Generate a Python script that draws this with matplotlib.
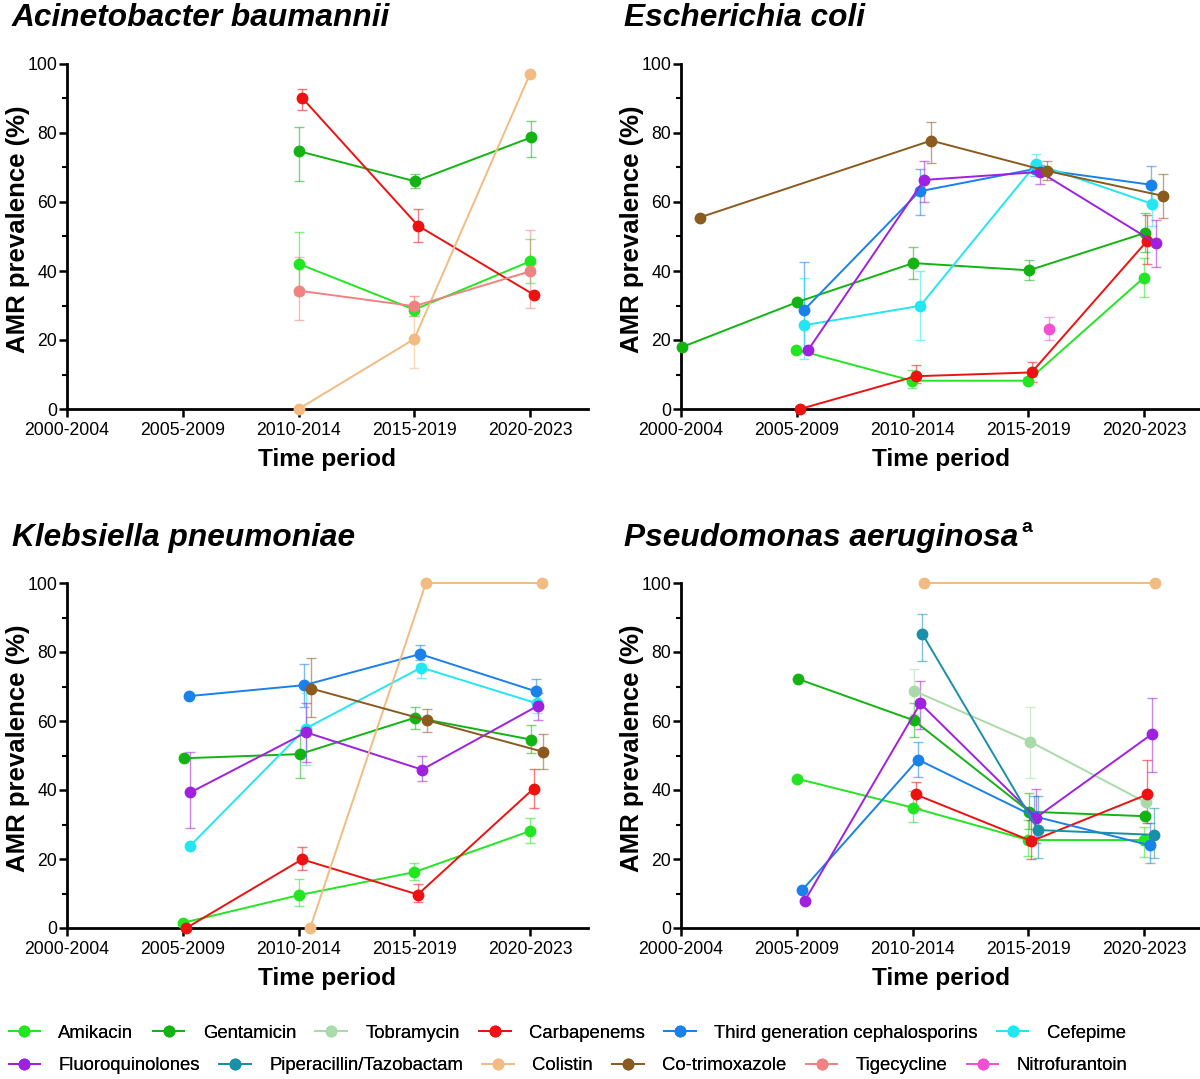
"""AMR prevalence by time period for four pathogens (2x2 line panels)."""

import matplotlib
matplotlib.use("Agg")
import matplotlib.pyplot as plt
from matplotlib.lines import Line2D
from matplotlib.ticker import MultipleLocator

plt.rcParams["font.family"] = ["Liberation Sans", "DejaVu Sans"]

PERIODS = ["2000-2004", "2005-2009", "2010-2014", "2015-2019", "2020-2023"]
DRUGS = ["Amikacin", "Gentamicin", "Tobramycin", "Carbapenems",
         "Third generation cephalosporins", "Cefepime", "Fluoroquinolones",
         "Piperacillin/Tazobactam", "Colistin", "Co-trimoxazole",
         "Tigecycline", "Nitrofurantoin"]
COLORS = {
    "Amikacin": "#22e622",
    "Gentamicin": "#13b313",
    "Tobramycin": "#a9dba9",
    "Carbapenems": "#ee1111",
    "Third generation cephalosporins": "#1a80ea",
    "Cefepime": "#22e6f2",
    "Fluoroquinolones": "#a020e0",
    "Piperacillin/Tazobactam": "#1890a8",
    "Colistin": "#f2bb82",
    "Co-trimoxazole": "#8b5a1e",
    "Tigecycline": "#f08282",
    "Nitrofurantoin": "#f050d2",
}
N = None

# Acinetobacter baumannii
ACIN_MEAN = {
    "Amikacin": [N, N, 42.1, 28.8, 42.8],
    "Gentamicin": [N, N, 74.7, 66.0, 78.7],
    "Carbapenems": [N, N, 90.1, 53.1, 33.1],
    "Colistin": [N, N, 0.0, 20.3, 97.2],
    "Tigecycline": [N, N, 34.3, 29.8, 39.9],
}
ACIN_LO = {
    "Amikacin": [N, N, 33.0, 26.9, 36.5],
    "Gentamicin": [N, N, 66.2, 64.1, 73.1],
    "Carbapenems": [N, N, 86.7, 48.3, N],
    "Colistin": [N, N, N, 11.9, N],
    "Tigecycline": [N, N, 25.7, 26.9, 29.3],
}
ACIN_HI = {
    "Amikacin": [N, N, 51.2, 30.5, 49.3],
    "Gentamicin": [N, N, 81.7, 68.1, 83.5],
    "Carbapenems": [N, N, 92.8, 58.0, N],
    "Colistin": [N, N, N, 32.8, N],
    "Tigecycline": [N, N, 44.0, 32.7, 51.9],
}

# Escherichia coli
ECOLI_MEAN = {
    "Amikacin": [N, 17.2, 8.2, 8.2, 38.0],
    "Gentamicin": [17.9, 31.0, 42.3, 40.2, 51.0],
    "Carbapenems": [N, 0.0, 9.5, 10.6, 48.8],
    "Third generation cephalosporins": [N, 28.6, 63.1, 69.6, 65.0],
    "Cefepime": [N, 24.3, 29.9, 71.0, 59.5],
    "Fluoroquinolones": [N, 17.2, 66.4, 68.7, 48.1],
    "Co-trimoxazole": [55.5, N, 77.8, 69.0, 61.8],
    "Nitrofurantoin": [N, N, N, 23.2, N],
}
ECOLI_LO = {
    "Amikacin": [N, N, 6.1, 7.3, 32.6],
    "Gentamicin": [N, N, 37.8, 37.3, 45.5],
    "Carbapenems": [N, N, 7.5, 7.7, 42.1],
    "Third generation cephalosporins": [N, 16.5, 56.1, 67.6, 59.0],
    "Cefepime": [N, 14.5, 20.1, 68.3, 53.1],
    "Fluoroquinolones": [N, N, 60.0, 65.3, 41.3],
    "Co-trimoxazole": [N, N, 71.2, 66.5, 55.3],
    "Nitrofurantoin": [N, N, N, 20.1, N],
}
ECOLI_HI = {
    "Amikacin": [N, N, 11.2, 9.2, 43.7],
    "Gentamicin": [N, N, 47.1, 43.2, 56.8],
    "Carbapenems": [N, N, 12.8, 13.6, 56.1],
    "Third generation cephalosporins": [N, 42.5, 69.7, 71.2, 70.3],
    "Cefepime": [N, 37.9, 40.0, 73.8, 64.0],
    "Fluoroquinolones": [N, N, 71.9, 70.8, 54.8],
    "Co-trimoxazole": [N, N, 83.3, 72.0, 68.1],
    "Nitrofurantoin": [N, N, N, 26.8, N],
}

# Klebsiella pneumoniae
KLEB_MEAN = {
    "Amikacin": [N, 1.5, 9.5, 16.2, 28.1],
    "Gentamicin": [N, 49.2, 50.4, 61.0, 54.6],
    "Carbapenems": [N, 0.0, 19.9, 9.7, 40.4],
    "Third generation cephalosporins": [N, 67.2, 70.4, 79.4, 68.6],
    "Cefepime": [N, 23.7, 57.8, 75.5, 65.1],
    "Fluoroquinolones": [N, 39.3, 56.7, 45.9, 64.4],
    "Colistin": [N, N, 0.0, 100.0, 100.0],
    "Co-trimoxazole": [N, N, 69.4, 60.2, 51.1],
}
KLEB_LO = {
    "Amikacin": [N, N, 6.4, 13.9, 24.5],
    "Gentamicin": [N, N, 43.6, 57.8, 50.6],
    "Carbapenems": [N, N, 16.8, 7.4, 34.8],
    "Third generation cephalosporins": [N, N, 64.1, 77.6, 65.1],
    "Cefepime": [N, N, 47.2, 72.6, 62.2],
    "Fluoroquinolones": [N, 28.9, 48.2, 42.5, 60.2],
    "Colistin": [N, N, N, N, N],
    "Co-trimoxazole": [N, N, 61.2, 56.8, 46.2],
}
KLEB_HI = {
    "Amikacin": [N, N, 14.1, 18.7, 31.9],
    "Gentamicin": [N, N, 57.3, 64.1, 58.7],
    "Carbapenems": [N, N, 23.4, 12.7, 46.2],
    "Third generation cephalosporins": [N, N, 76.4, 81.9, 72.3],
    "Cefepime": [N, N, 68.0, 76.6, 68.0],
    "Fluoroquinolones": [N, 51.0, 65.1, 49.8, 68.0],
    "Colistin": [N, N, N, N, N],
    "Co-trimoxazole": [N, N, 78.3, 63.6, 56.1],
}

# Pseudomonas aeruginosa
PSEU_MEAN = {
    "Amikacin": [N, 43.3, 34.9, 25.5, 25.5],
    "Gentamicin": [N, 72.2, 60.2, 33.7, 32.4],
    "Tobramycin": [N, N, 68.7, 54.0, 36.4],
    "Carbapenems": [N, N, 38.7, 25.2, 38.7],
    "Third generation cephalosporins": [N, 11.0, 48.8, 32.4, 24.0],
    "Fluoroquinolones": [N, 7.8, 65.1, 32.0, 56.2],
    "Piperacillin/Tazobactam": [N, N, 85.2, 28.4, 27.0],
    "Colistin": [N, N, 100.0, N, 100.0],
}
PSEU_LO = {
    "Amikacin": [N, N, 30.6, 20.8, 20.7],
    "Gentamicin": [N, N, 55.4, 28.6, N],
    "Tobramycin": [N, N, 62.0, 43.6, N],
    "Carbapenems": [N, N, 34.9, 19.9, 30.3],
    "Third generation cephalosporins": [N, N, 43.8, 26.4, 18.9],
    "Fluoroquinolones": [N, N, 57.8, 24.5, 45.2],
    "Piperacillin/Tazobactam": [N, N, 77.4, 20.4, 20.4],
    "Colistin": [N, N, N, N, N],
}
PSEU_HI = {
    "Amikacin": [N, N, 39.7, 31.3, 29.3],
    "Gentamicin": [N, N, 65.1, 39.0, N],
    "Tobramycin": [N, N, 75.1, 64.1, N],
    "Carbapenems": [N, N, 42.4, 31.3, 48.8],
    "Third generation cephalosporins": [N, N, 54.0, 38.4, 30.3],
    "Fluoroquinolones": [N, N, 71.6, 40.3, 66.8],
    "Piperacillin/Tazobactam": [N, N, 90.9, 38.4, 34.8],
    "Colistin": [N, N, N, N, N],
}

# horizontal dodge of each series (fraction of one period)
ACIN_DODGE = {"Amikacin": 0.0, "Gentamicin": 0.007, "Carbapenems": 0.033,
              "Colistin": 0.0, "Tigecycline": 0.0}
ECOLI_DODGE = {"Amikacin": -0.005, "Gentamicin": 0.005, "Carbapenems": 0.028,
               "Third generation cephalosporins": 0.06, "Cefepime": 0.066,
               "Fluoroquinolones": 0.1, "Co-trimoxazole": 0.16,
               "Nitrofurantoin": 0.18}
KLEB_DODGE = {"Amikacin": 0.0, "Gentamicin": 0.01, "Carbapenems": 0.03,
              "Third generation cephalosporins": 0.05, "Cefepime": 0.06,
              "Fluoroquinolones": 0.066, "Colistin": 0.1, "Co-trimoxazole": 0.11}
PSEU_DODGE = {"Amikacin": 0.0, "Gentamicin": 0.01, "Tobramycin": 0.016,
              "Carbapenems": 0.027, "Third generation cephalosporins": 0.047,
              "Fluoroquinolones": 0.067, "Piperacillin/Tazobactam": 0.085,
              "Colistin": 0.095}


def draw_panel(ax, mean, lo, hi, dodge):
    for drug in DRUGS:
        if drug not in mean:
            continue
        color = COLORS[drug]
        off = dodge.get(drug, 0.0)
        pts = [(i + off, v) for i, v in enumerate(mean[drug]) if v is not None]
        xs = [p[0] for p in pts]
        ys = [p[1] for p in pts]
        for i, v in enumerate(mean[drug]):
            l, h = lo[drug][i], hi[drug][i]
            if v is None or l is None:
                continue
            ax.errorbar([i + off], [v], yerr=[[v - l], [h - v]], fmt="none",
                        ecolor=color, alpha=0.55, elinewidth=1.0, capsize=3.5,
                        capthick=1.0, zorder=2, clip_on=False)
        ax.plot(xs, ys, color=color, lw=1.4, marker="o", ms=7.5, zorder=3,
                clip_on=False)

    ax.set_xlim(0, 4.5)
    ax.set_ylim(0, 100)
    ax.set_xticks(range(len(PERIODS)))
    ax.set_xticklabels(PERIODS, fontsize=12.7)
    ax.yaxis.set_major_locator(MultipleLocator(20))
    ax.yaxis.set_minor_locator(MultipleLocator(10))
    ax.tick_params(axis="y", labelsize=12.7, pad=1)
    ax.tick_params(which="major", width=1.8, length=6, color="black")
    ax.tick_params(which="minor", width=1.5, length=3.5)
    for side in ("top", "right"):
        ax.spines[side].set_visible(False)
    for side in ("left", "bottom"):
        ax.spines[side].set_linewidth(2.0)
    ax.text(-0.095, 0.52, "AMR prevalence (%)", transform=ax.transAxes,
            rotation=90, ha="center", va="center", fontsize=18.5,
            fontweight="bold")
    ax.text(0.5, -0.145, "Time period", transform=ax.transAxes, ha="center",
            va="center", fontsize=17.6, fontweight="bold")


fig = plt.figure(figsize=(12, 10.79), dpi=100)
W, H = 1200, 1079
ax_w, ax_h = 521 / W, 345 / H
positions = [
    (67 / W, 1 - 409 / H),
    (681 / W, 1 - 409 / H),
    (67 / W, 1 - 928 / H),
    (681 / W, 1 - 928 / H),
]
panels = [
    ("Acinetobacter baumannii", ACIN_MEAN, ACIN_LO, ACIN_HI, ACIN_DODGE, (12, 18)),
    ("Escherichia coli", ECOLI_MEAN, ECOLI_LO, ECOLI_HI, ECOLI_DODGE, (624, 18)),
    ("Klebsiella pneumoniae", KLEB_MEAN, KLEB_LO, KLEB_HI, KLEB_DODGE, (12, 538)),
    ("Pseudomonas aeruginosa", PSEU_MEAN, PSEU_LO, PSEU_HI, PSEU_DODGE, (624, 538)),
]
for (left, bottom), (title, mean, lo, hi, dodge, tpos) in zip(positions, panels):
    ax = fig.add_axes([left, bottom, ax_w, ax_h])
    draw_panel(ax, mean, lo, hi, dodge)
    t = fig.text(tpos[0] / W, 1 - tpos[1] / H, title, fontsize=22.8,
                 fontweight="bold", style="italic", ha="left", va="center")
    if title.startswith("Pseudomonas"):
        fig.canvas.draw()
        ax.annotate("a", xy=(1.0, 0.85), xycoords=t, xytext=(2, 0),
                    textcoords="offset points", fontsize=14, fontweight="bold",
                    ha="left", va="center")

rows = [DRUGS[:6], DRUGS[6:]]
row_y = [1033, 1066]
for names, y in zip(rows, row_y):
    handles = [Line2D([], [], color=COLORS[d], lw=1.4, marker="o", ms=7.5)
               for d in names]
    leg = fig.legend(handles, names, loc="center left",
                     bbox_to_anchor=(3 / W, 1 - y / H), ncol=len(names),
                     frameon=False, fontsize=13.3, handlelength=1.7,
                     handletextpad=1.0, columnspacing=1.05, borderaxespad=0,
                     borderpad=0.3)
    fig.add_artist(leg)

fig.savefig("out.png", dpi=100)
